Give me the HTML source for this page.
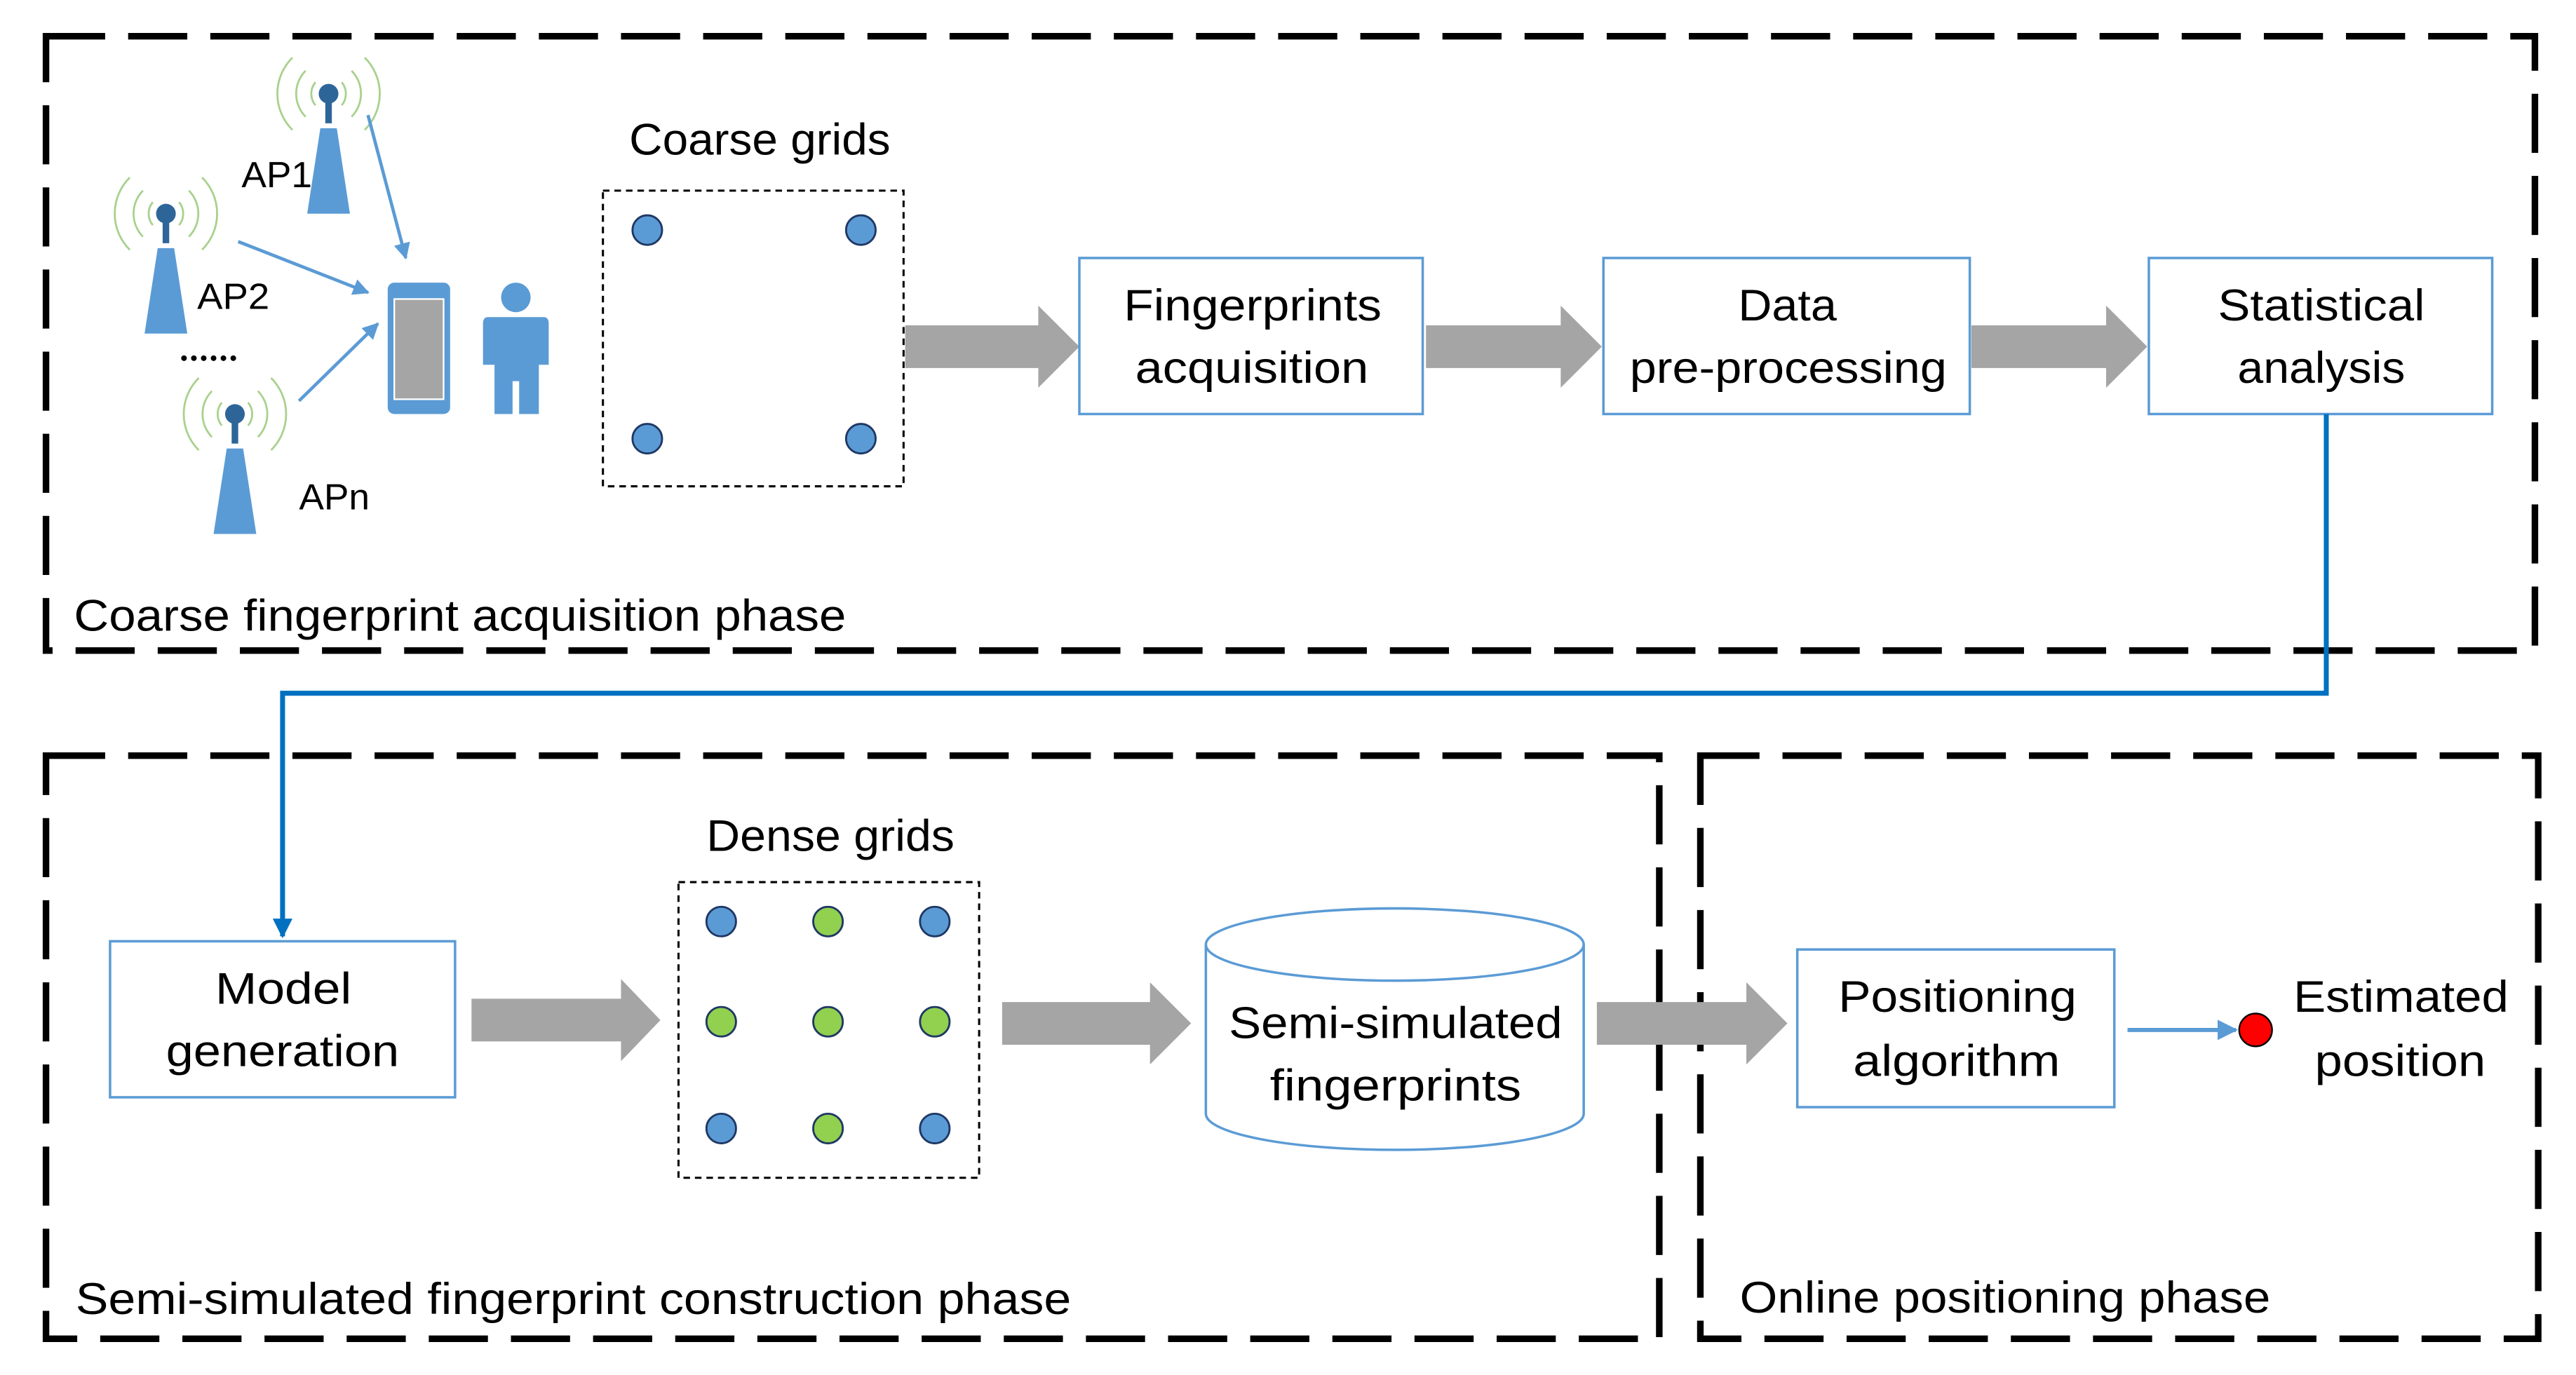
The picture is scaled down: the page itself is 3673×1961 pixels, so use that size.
<!DOCTYPE html>
<html><head><meta charset="utf-8"><style>
html,body{margin:0;padding:0;background:#fff;}
svg{display:block;}
text{font-family:"Liberation Sans",sans-serif;fill:#000;}
</style></head><body>
<svg width="3673" height="1961" viewBox="0 0 1568 837" xmlns="http://www.w3.org/2000/svg">
<defs>
<marker id="ah" viewBox="0 0 10 10" refX="9" refY="5" markerWidth="5" markerHeight="5" orient="auto"><path d="M0,0 L10,5 L0,10 Z" fill="#5b9bd5"/></marker>
<marker id="ah2" viewBox="0 0 10 10" refX="9" refY="5" markerWidth="4" markerHeight="4" orient="auto"><path d="M0,0 L10,5 L0,10 Z" fill="#0070c0"/></marker>
<g id="ant">
<path d="M-14,-14 A20,20 0 0,0 -14,14 M14,-14 A20,20 0 0,1 14,14" stroke="#a9d18e" stroke-width="1.2" fill="none"/>
<path d="M-22,-22 A31,31 0 0,0 -22,22 M22,-22 A31,31 0 0,1 22,22" stroke="#a9d18e" stroke-width="1.2" fill="none"/>
<path d="M-8,-7 A11,11 0 0,0 -8,7 M8,-7 A11,11 0 0,1 8,7" stroke="#a9d18e" stroke-width="1.2" fill="none"/>
<circle cx="0" cy="0" r="6" fill="#2e6599"/>
<rect x="-2" y="0" width="4" height="18" fill="#2e6599"/>
<path d="M-5,21 L5,21 L13,73 L-13,73 Z" fill="#5b9bd5"/>
</g>
</defs>
<g stroke="#000" stroke-width="4" fill="none" stroke-dasharray="36,14">
<rect x="28" y="22" width="1515" height="374"/>
<rect x="28" y="460" width="982" height="355"/>
<rect x="1035" y="460" width="510" height="355"/>
</g>
<use href="#ant" x="200" y="57"/>
<use href="#ant" x="101" y="130"/>
<use href="#ant" x="143" y="252"/>
<g font-size="22">
<text x="147" y="114" textLength="43" lengthAdjust="spacingAndGlyphs">AP1</text>
<text x="120" y="188" textLength="44" lengthAdjust="spacingAndGlyphs">AP2</text>
<text x="182" y="310" textLength="43" lengthAdjust="spacingAndGlyphs">APn</text>
</g>
<g fill="#000"><circle cx="112" cy="218" r="1.7"/><circle cx="118" cy="218" r="1.7"/><circle cx="124" cy="218" r="1.7"/><circle cx="130" cy="218" r="1.7"/><circle cx="136" cy="218" r="1.7"/><circle cx="142" cy="218" r="1.7"/></g>
<g stroke="#5b9bd5" stroke-width="2" marker-end="url(#ah)">
<line x1="224" y1="70" x2="247" y2="157"/>
<line x1="145" y1="147" x2="224" y2="178"/>
<line x1="182" y1="244" x2="230" y2="197"/>
</g>
<rect x="236" y="172" width="38" height="80" rx="4" fill="#5b9bd5"/>
<rect x="240" y="182" width="30" height="61" fill="#a5a5a5" stroke="#fff" stroke-width="1"/>
<circle cx="314" cy="181" r="9" fill="#5b9bd5"/>
<path d="M297,193 L331,193 Q334,193 334,197 L334,222 L328,222 L328,252 L316,252 L316,232 L312,232 L312,252 L301,252 L301,222 L294,222 L294,197 Q294,193 297,193 Z" fill="#5b9bd5"/>
<rect x="367" y="116" width="183" height="180" fill="none" stroke="#000" stroke-width="1.3" stroke-dasharray="4,3"/>
<g fill="#5b9bd5" stroke="#1f3864" stroke-width="1.2">
<circle cx="394" cy="140" r="9"/><circle cx="524" cy="140" r="9"/><circle cx="394" cy="267" r="9"/><circle cx="524" cy="267" r="9"/>
</g>
<g fill="#a5a5a5">
<path d="M551,198 L632,198 L632,186 L657,211 L632,236 L632,224 L551,224 Z"/>
<path d="M868,198 L950,198 L950,186 L975,211 L950,236 L950,224 L868,224 Z"/>
<path d="M1200,198 L1282,198 L1282,186 L1307,211 L1282,236 L1282,224 L1200,224 Z"/>
<path d="M287,608 L378,608 L378,596 L402,621 L378,646 L378,634 L287,634 Z"/>
<path d="M610,610 L700,610 L700,598 L725,623 L700,648 L700,636 L610,636 Z"/>
<path d="M972,610 L1063,610 L1063,598 L1088,623 L1063,648 L1063,636 L972,636 Z"/>
</g>
<g fill="#fff" stroke="#5b9bd5" stroke-width="1.5">
<rect x="657" y="157" width="209" height="95"/>
<rect x="976" y="157" width="223" height="95"/>
<rect x="1308" y="157" width="209" height="95"/>
<rect x="67" y="573" width="210" height="95"/>
<rect x="1094" y="578" width="193" height="96"/>
</g>
<g font-size="27">
<text x="383" y="94" textLength="159" lengthAdjust="spacingAndGlyphs">Coarse grids</text>
<text x="684" y="195" textLength="157" lengthAdjust="spacingAndGlyphs">Fingerprints</text><text x="691" y="233" textLength="142" lengthAdjust="spacingAndGlyphs">acquisition</text>
<text x="1058" y="195" textLength="60" lengthAdjust="spacingAndGlyphs">Data</text><text x="992" y="233" textLength="193" lengthAdjust="spacingAndGlyphs">pre-processing</text>
<text x="1350" y="195" textLength="126" lengthAdjust="spacingAndGlyphs">Statistical</text><text x="1362" y="233" textLength="102" lengthAdjust="spacingAndGlyphs">analysis</text>
<text x="131" y="611" textLength="83" lengthAdjust="spacingAndGlyphs">Model</text><text x="101" y="649" textLength="142" lengthAdjust="spacingAndGlyphs">generation</text>
<text x="1119" y="616" textLength="145" lengthAdjust="spacingAndGlyphs">Positioning</text><text x="1128" y="655" textLength="126" lengthAdjust="spacingAndGlyphs">algorithm</text>
<text x="1396" y="616" textLength="131" lengthAdjust="spacingAndGlyphs">Estimated</text><text x="1409" y="655" textLength="104" lengthAdjust="spacingAndGlyphs">position</text>
<text x="430" y="518" textLength="151" lengthAdjust="spacingAndGlyphs">Dense grids</text>
<text x="748" y="632" textLength="203" lengthAdjust="spacingAndGlyphs">Semi-simulated</text><text x="773" y="670" textLength="153" lengthAdjust="spacingAndGlyphs">fingerprints</text>
<text x="45" y="384" textLength="470" lengthAdjust="spacingAndGlyphs">Coarse fingerprint acquisition phase</text>
<text x="46" y="800" textLength="606" lengthAdjust="spacingAndGlyphs">Semi-simulated fingerprint construction phase</text>
<text x="1059" y="799" textLength="323" lengthAdjust="spacingAndGlyphs">Online positioning phase</text>
</g>
<polyline points="1416,252 1416,422 172,422 172,570" fill="none" stroke="#0070c0" stroke-width="3" marker-end="url(#ah2)"/>
<rect x="413" y="537" width="183" height="180" fill="none" stroke="#000" stroke-width="1.3" stroke-dasharray="4,3"/>
<g stroke="#1f3864" stroke-width="1.2">
<circle cx="439" cy="561" r="9" fill="#5b9bd5"/><circle cx="504" cy="561" r="9" fill="#92d050"/><circle cx="569" cy="561" r="9" fill="#5b9bd5"/>
<circle cx="439" cy="622" r="9" fill="#92d050"/><circle cx="504" cy="622" r="9" fill="#92d050"/><circle cx="569" cy="622" r="9" fill="#92d050"/>
<circle cx="439" cy="687" r="9" fill="#5b9bd5"/><circle cx="504" cy="687" r="9" fill="#92d050"/><circle cx="569" cy="687" r="9" fill="#5b9bd5"/>
</g>
<path d="M734,575 L734,678 A115,22 0 0,0 964,678 L964,575" fill="none" stroke="#5b9bd5" stroke-width="1.5"/>
<ellipse cx="849" cy="575" rx="115" ry="22" fill="none" stroke="#5b9bd5" stroke-width="1.5"/>
<line x1="1295" y1="627" x2="1361" y2="627" stroke="#5b9bd5" stroke-width="2.5" marker-end="url(#ah)"/>
<circle cx="1373" cy="627" r="10" fill="#ff0000" stroke="#000" stroke-width="1"/>
</svg>
</body></html>
